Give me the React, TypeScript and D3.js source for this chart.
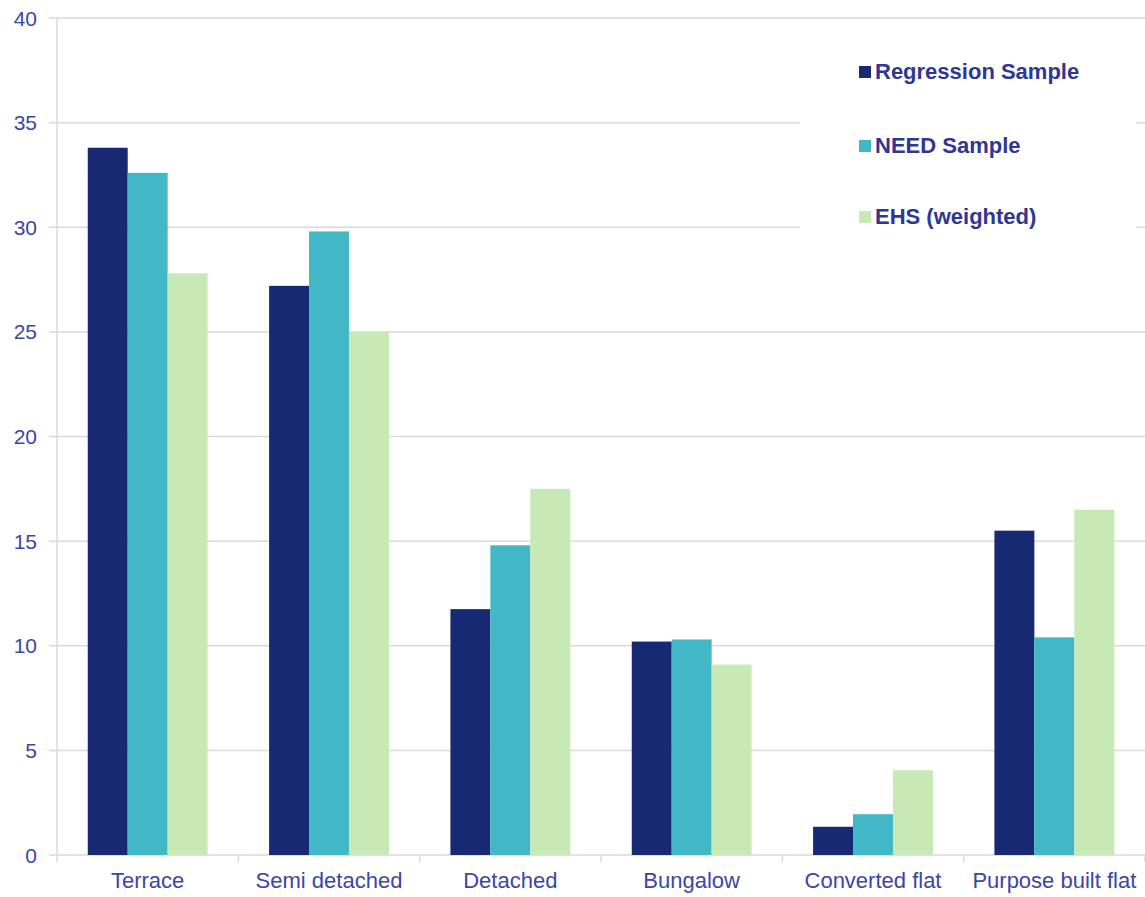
import * as d3 from "d3";
import { useEffect, useRef } from "react";

const categories = [
  "Terrace",
  "Semi detached",
  "Detached",
  "Bungalow",
  "Converted flat",
  "Purpose built flat",
];
const seriesNames = ["Regression Sample", "NEED Sample", "EHS (weighted)"];
const regression = [33.8, 27.2, 11.75, 10.2, 1.35, 15.5];
const need = [32.6, 29.8, 14.8, 10.3, 1.95, 10.4];
const ehs = [27.8, 25.0, 17.5, 9.1, 4.05, 16.5];
const yTicks = [0, 5, 10, 15, 20, 25, 30, 35, 40];

const colors = ["#172972", "#42B7C5", "#C7E9B5"];
const labelColor = "#3B46A6";
const legendColor = "#2E3792";

export default function App() {
  const ref = useRef<SVGSVGElement>(null);

  useEffect(() => {
    document.body.style.margin = "0";
    if (!ref.current) return;
    const svg = d3.select(ref.current);
    svg.selectAll("*").remove();

    const width = 1145;
    const height = 897;
    const left = 57;
    const right = 1145;
    const top = 18;
    const bottom = 855;
    const font = "'Liberation Sans', Arial, sans-serif";

    const x0 = d3.scaleBand().domain(categories).range([left, right]).padding(0);
    const x1 = d3
      .scaleBand()
      .domain(seriesNames)
      .range([0, x0.bandwidth()])
      .paddingInner(0)
      .paddingOuter(0.77);
    const y = d3.scaleLinear().domain([0, 40]).range([bottom, top]);

    svg.attr("width", width).attr("height", height);
    svg.append("rect").attr("width", width).attr("height", height).attr("fill", "white");

    // grid lines
    svg
      .selectAll(".grid")
      .data(yTicks)
      .enter()
      .append("line")
      .attr("x1", left - 8)
      .attr("x2", right)
      .attr("y1", (d) => y(d))
      .attr("y2", (d) => y(d))
      .attr("stroke", "#D9D9D9")
      .attr("stroke-width", 1.5);

    // y labels
    svg
      .selectAll(".ylab")
      .data(yTicks)
      .enter()
      .append("text")
      .attr("x", 37)
      .attr("y", (d) => y(d))
      .attr("dy", "0.36em")
      .attr("text-anchor", "end")
      .attr("font-family", font)
      .attr("font-size", 21)
      .attr("fill", labelColor)
      .text((d) => d);

    // legend background hides gridlines
    svg
      .append("rect")
      .attr("x", 800)
      .attr("y", 32)
      .attr("width", 336)
      .attr("height", 205)
      .attr("fill", "white");

    // y axis line
    svg
      .append("line")
      .attr("x1", left)
      .attr("x2", left)
      .attr("y1", top)
      .attr("y2", bottom)
      .attr("stroke", "#D9D9D9")
      .attr("stroke-width", 1.5);

    // bars
    const series = [regression, need, ehs];
    const groups = svg
      .selectAll(".cat")
      .data(categories)
      .enter()
      .append("g")
      .attr("transform", (d) => `translate(${x0(d)},0)`);

    groups
      .selectAll("rect")
      .data((_, i) => seriesNames.map((s, j) => ({ s, j, v: series[j][i] })))
      .enter()
      .append("rect")
      .attr("x", (d) => x1(d.s)!)
      .attr("y", (d) => y(d.v))
      .attr("width", x1.bandwidth())
      .attr("height", (d) => bottom - y(d.v))
      .attr("fill", (d) => colors[d.j]);

    // x axis ticks
    const boundaries = categories.map((c) => x0(c)!).concat([right]);
    svg
      .selectAll(".xtick")
      .data(boundaries)
      .enter()
      .append("line")
      .attr("x1", (d) => d)
      .attr("x2", (d) => d)
      .attr("y1", bottom)
      .attr("y2", bottom + 7)
      .attr("stroke", "#D9D9D9")
      .attr("stroke-width", 1.5);

    svg
      .selectAll(".xlab")
      .data(categories)
      .enter()
      .append("text")
      .attr("x", (d) => x0(d)! + x0.bandwidth() / 2)
      .attr("y", 888)
      .attr("text-anchor", "middle")
      .attr("font-family", font)
      .attr("font-size", 22)
      .attr("fill", labelColor)
      .text((d) => d);

    // legend
    const ly = [71, 145, 216];
    const legend = svg
      .selectAll(".leg")
      .data(seriesNames)
      .enter()
      .append("g")
      .attr("transform", (_, i) => `translate(859,${ly[i]})`);
    legend
      .append("rect")
      .attr("x", 0)
      .attr("y", -5)
      .attr("width", 12)
      .attr("height", 12)
      .attr("fill", (_, i) => colors[i]);
    legend
      .append("text")
      .attr("x", 16)
      .attr("y", 0)
      .attr("dy", "0.36em")
      .attr("font-family", font)
      .attr("font-weight", "bold")
      .attr("font-size", 22)
      .attr("fill", legendColor)
      .text((d) => d);
  }, []);

  return <svg ref={ref} style={{ display: "block" }} />;
}
